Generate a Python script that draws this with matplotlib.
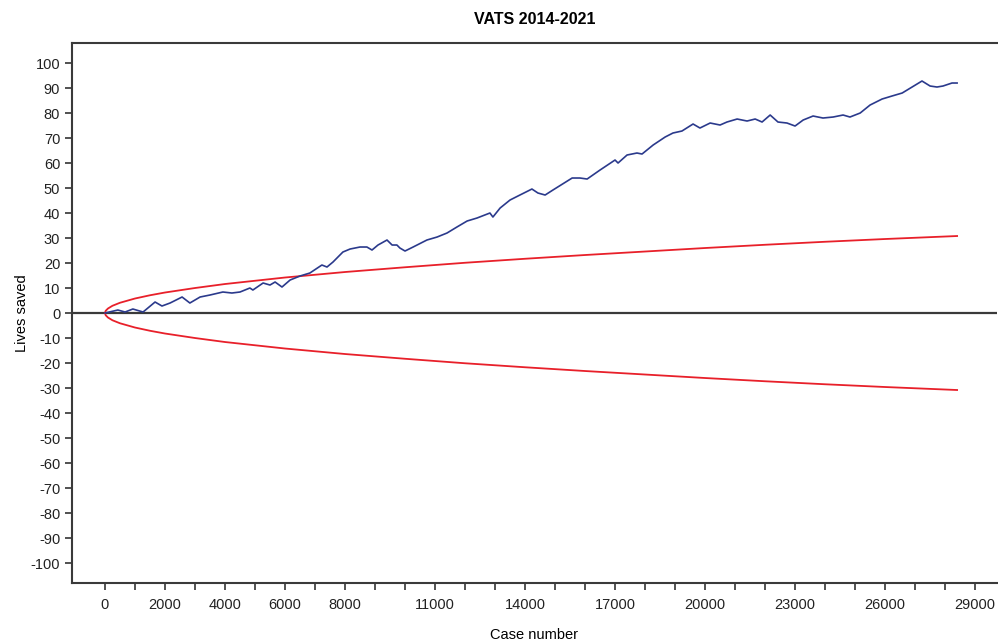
import matplotlib.pyplot as plt
from matplotlib.ticker import FixedLocator, FixedFormatter

plt.rcParams['font.family'] = ['Liberation Sans', 'DejaVu Sans']
plt.rcParams['axes.unicode_minus'] = False

case_n = [0, 430, 670, 930, 1270, 1670, 1900, 2170, 2570, 2830, 3170, 3500, 3930,
          4230, 4500, 4830, 4930, 5270, 5500, 5670, 5900, 6170, 6500, 6830, 7230,
          7400, 7600, 7930, 8170, 8500, 8730, 8900, 9100, 9400, 9570, 9730, 9830,
          10000, 10270, 10730, 11070, 11400, 11730, 12070, 12400, 12830, 12930,
          13170, 13500, 13830, 14230, 14430, 14670, 14930, 15570, 15830, 16070,
          16500, 17000, 17100, 17400, 17730, 17900, 18270, 18670, 18930, 19230,
          19600, 19830, 20170, 20500, 20730, 21070, 21400, 21670, 21900, 22170,
          22430, 22730, 23000, 23270, 23600, 23930, 24270, 24600, 24830, 25170,
          25500, 25900, 26230, 26570, 26900, 27230, 27500, 27730, 27930, 28230, 28400]
lives = [0, 1.2, 0.4, 1.6, 0.4, 4.4, 2.8, 4.0, 6.4, 4.0, 6.4, 7.2, 8.4,
         8.0, 8.4, 10.0, 9.2, 12.0, 11.2, 12.4, 10.4, 13.2, 14.8, 16.0, 19.2,
         18.4, 20.4, 24.4, 25.6, 26.4, 26.4, 25.2, 27.2, 29.2, 27.2, 27.2, 26.0,
         24.8, 26.4, 29.2, 30.4, 32.0, 34.4, 36.8, 38.0, 40.0, 38.4,
         42.0, 45.2, 47.2, 49.6, 48.0, 47.2, 49.2, 54.0, 54.0, 53.6,
         57.2, 61.2, 60.0, 63.2, 64.0, 63.6, 67.2, 70.4, 72.0, 72.8,
         75.6, 74.0, 76.0, 75.2, 76.4, 77.6, 76.8, 77.6, 76.4, 79.2,
         76.4, 76.0, 74.8, 77.2, 78.8, 78.0, 78.4, 79.2, 78.4, 80.0,
         83.2, 85.6, 86.8, 88.0, 90.4, 92.8, 90.8, 90.4, 90.8, 92.0, 92.0]

# control limits
limit_n = [0, 25, 100, 250, 500, 1000, 1500, 2000, 3000, 4000, 5000, 6000, 8000,
           10000, 12000, 14000, 16000, 18000, 20000, 22000, 24000, 26000, 28400]
upper_limit = [0, 0.9, 1.8, 2.9, 4.1, 5.8, 7.1, 8.2, 10.0, 11.6, 12.9, 14.2, 16.4,
               18.3, 20.1, 21.7, 23.2, 24.6, 26.0, 27.3, 28.5, 29.6, 30.8]
lower_limit = [-v for v in upper_limit]

tick_pos = list(range(0, 30000, 1000))
tick_labels = ['0', '2000', '4000', '6000', '8000', '11000', '14000', '17000',
               '20000', '23000', '26000', '29000']
y_ticks = list(range(-100, 101, 10))

fig = plt.figure(figsize=(9.98, 6.44), dpi=100)
ax = fig.add_axes([0.0721, 0.0947, 0.9269, 0.8385])

ax.axhline(0, color='#3a3a3a', lw=1.6, zorder=1)
ax.plot(limit_n, upper_limit, color='#e8202a', lw=1.3, zorder=2)
ax.plot(limit_n, lower_limit, color='#e8202a', lw=1.3, zorder=2)
ax.plot(case_n, lives, color='#2b3a8c', lw=1.2, zorder=3)

ax.set_xlim(-1100, 29730)
ax.set_ylim(-108, 108)

shown = {0, 2000, 4000, 6000, 8000, 11000, 14000, 17000, 20000, 23000, 26000, 29000}
labels = []
it = iter(tick_labels)
for p in tick_pos:
    labels.append(next(it) if p in shown else '')
ax.xaxis.set_major_locator(FixedLocator(tick_pos))
ax.xaxis.set_major_formatter(FixedFormatter(labels))
ax.set_yticks(y_ticks)

ax.tick_params(direction='out', length=5, width=1.2, color='#333333',
               labelsize=10.5, labelcolor='#222222')
ax.tick_params(axis='x', pad=6)
for side in ['left', 'bottom', 'top']:
    ax.spines[side].set_linewidth(1.5)
    ax.spines[side].set_color('#3a3a3a')
ax.spines['right'].set_visible(False)

ax.set_title('VATS 2014-2021', fontsize=11.5, fontweight='bold', pad=14)
ax.set_xlabel('Case number', fontsize=10.5, labelpad=11)
ax.set_ylabel('Lives saved', fontsize=10.5, labelpad=1)

fig.savefig('out.png', dpi=100)
